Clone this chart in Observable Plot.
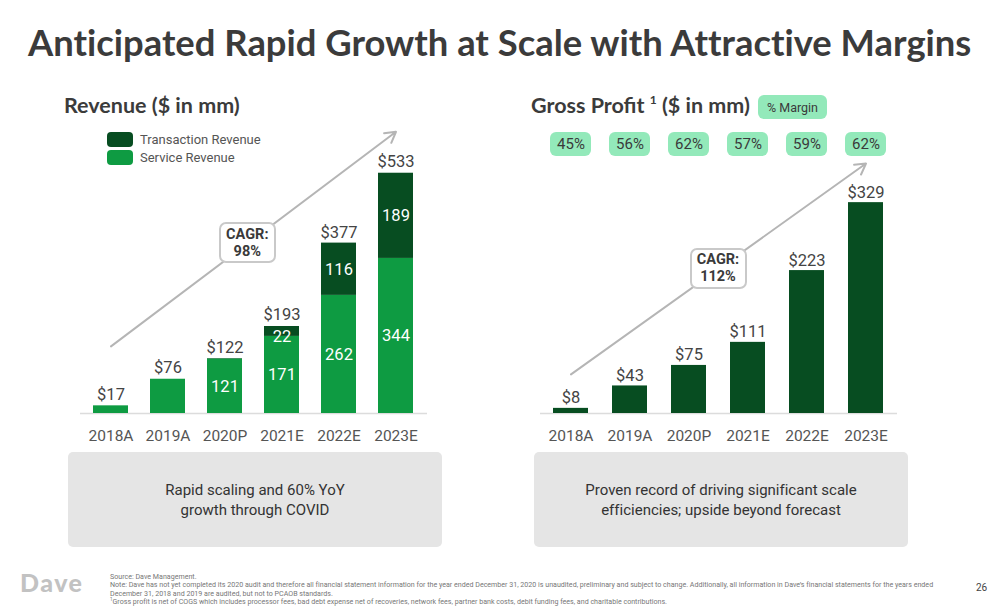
<!DOCTYPE html>
<html><head><meta charset="utf-8">
<script src="https://cdn.jsdelivr.net/npm/d3@7"></script>
<script src="https://cdn.jsdelivr.net/npm/@observablehq/plot@0.6"></script>
<style>
body{margin:0;background:#fff;}
#slide{position:relative;width:1008px;height:612px;overflow:hidden;font-family:Roboto,sans-serif;color:#3c3c3c;background:#fff;font-variant-ligatures:none;}
.abs{position:absolute;}
#title{left:28px;top:24px;font:700 36.4px/1 Lato,sans-serif;color:#3b3b3b;white-space:nowrap;font-variant-ligatures:none;}
.hdr{font:700 21.5px/1 Lato,sans-serif;color:#3b3b3b;white-space:nowrap;}
.hdr sup{font-size:12px;vertical-align:top;position:relative;top:-1px;}
.sw{width:26px;height:15px;border-radius:4px;}
.lg{font-size:13px;color:#555;line-height:15px;white-space:nowrap;}
.pill{background:#93e9ba;border-radius:6px;color:#3a3a3a;font-size:12.5px;display:flex;align-items:center;justify-content:center;}
.cagr{background:#fff;border:2px solid #c9c9c9;border-radius:7px;box-sizing:border-box;width:57px;height:41px;display:flex;flex-direction:column;align-items:center;justify-content:center;font-weight:700;font-size:14.5px;line-height:17px;color:#3a3a3a;}
.box{background:#e5e5e5;border-radius:5px;display:flex;align-items:center;justify-content:center;text-align:center;font-size:15px;line-height:20px;color:#333;}
.fn{left:110px;font-size:7.1px;line-height:1;color:#777;white-space:nowrap;}
.fn .s{font-size:4.5px;vertical-align:top;}
</style>
</head><body>
<div id="slide">
  <div id="title" class="abs">Anticipated Rapid Growth at Scale with Attractive Margins</div>
  <div class="abs hdr" style="left:64px;top:95px;">Revenue ($ in mm)</div>
  <div class="abs hdr" style="left:531px;top:95px;">Gross Profit <sup>1</sup> ($ in mm)</div>
  <div class="abs pill" style="left:758px;top:95px;width:69px;height:24px;">% Margin</div>

  <div class="abs sw" style="left:107px;top:132px;background:#074d21;"></div>
  <div class="abs lg" style="left:140px;top:132px;">Transaction Revenue</div>
  <div class="abs sw" style="left:107px;top:150px;background:#0e9b42;"></div>
  <div class="abs lg" style="left:140px;top:150px;">Service Revenue</div>

  <div id="revWrap" class="abs" style="left:60px;top:120px;"></div>
  <div id="gpWrap" class="abs" style="left:520px;top:122px;"></div>

  <div class="abs box" style="left:68px;top:452px;width:374px;height:95px;">Rapid scaling and 60% YoY<br>growth through COVID</div>
  <div class="abs box" style="left:534px;top:452px;width:374px;height:95px;">Proven record of driving significant scale<br>efficiencies; upside beyond forecast</div>

  <div class="abs" style="left:20px;top:570px;font:900 25px/1 Lato,sans-serif;color:#c2c2c2;letter-spacing:1.5px;">Dave</div>
  <div class="abs fn" style="top:572.5px;">Source: Dave Management.</div>
  <div class="abs fn" style="top:581px;">Note: Dave has not yet completed its 2020 audit and therefore all financial statement information for the year ended December 31, 2020 is unaudited, preliminary and subject to change. Additionally, all information in Dave’s financial statements for the years ended</div>
  <div class="abs fn" style="top:589.5px;">December 31, 2018 and 2019 are audited, but not to PCAOB standards.</div>
  <div class="abs fn" style="top:598px;"><span class="s">1</span>Gross profit is net of COGS which includes processor fees, bad debt expense net of recoveries, network fees, partner bank costs, debit funding fees, and charitable contributions.</div>
  <div class="abs" style="left:976px;top:582px;font-size:10px;color:#444;">26</div>
</div>
<script>
const years = ["2018A", "2019A", "2020P", "2021E", "2022E", "2023E"];
const serviceRevenue = [17, 76, 121, 171, 262, 344];
const transactionRevenue = [0, 0, 1, 22, 116, 189];
const totalRevenue = [17, 76, 122, 193, 377, 533];
const grossProfit = [8, 43, 75, 111, 223, 329];
const grossMargin = ["45%", "56%", "62%", "57%", "59%", "62%"];
const revenueCAGR = "98%";
const grossProfitCAGR = "112%";
const revenueTrend = {x1: "2018A", y1: 149, x2: "2023E", y2: 625};
const grossProfitTrend = {x1: "2018A", y1: 61, x2: "2023E", y2: 390};

const DARK = "#074d21", BRIGHT = "#0e9b42";

const revRows = years.flatMap((y, i) => [
  {year: y, type: "Service Revenue", value: serviceRevenue[i]},
  {year: y, type: "Transaction Revenue", value: transactionRevenue[i]}
]);
const svcLabels = years.map((y, i) => ({year: y, s: serviceRevenue[i]})).filter(d => d.s >= 100);
const trxLabels = years.map((y, i) => ({year: y, s: serviceRevenue[i], t: transactionRevenue[i]})).filter(d => d.t >= 10);

const axisOpts = {tickSize: 0, tickPadding: 16, fontSize: 15.5, fill: "#555", label: null, style: {letterSpacing: "0.6px"}};

const rev = Plot.plot({
  width: 390, height: 330,
  marginLeft: 20, marginRight: 23, marginTop: 9, marginBottom: 37,
  style: {fontFamily: "Roboto, sans-serif", background: "transparent", overflow: "visible"},
  x: {domain: years, paddingInner: 0.38, paddingOuter: 0.19, label: null},
  y: {domain: [0, 630], axis: null},
  color: {domain: ["Transaction Revenue", "Service Revenue"], range: [DARK, BRIGHT]},
  marks: [
    Plot.axisX(axisOpts),
    Plot.ruleY([0], {stroke: "#dcdcdc", strokeWidth: 1.5}),
    Plot.arrow([revenueTrend], {x1: "x1", y1: "y1", x2: "x2", y2: "y2", stroke: "#b5b5b5", strokeWidth: 2, headLength: 9}),
    Plot.barY(revRows, {x: "year", y: "value", fill: "type", order: ["Service Revenue", "Transaction Revenue"]}),
    Plot.text(years, {x: d => d, y: (d, i) => totalRevenue[i], text: (d, i) => "$" + totalRevenue[i], lineAnchor: "bottom", dy: -6, fontSize: 16.5, fill: "#444"}),
    Plot.text(svcLabels, {x: "year", y: d => d.s / 2, text: d => String(d.s), fill: "white", fontSize: 16.5}),
    Plot.text(trxLabels.filter(d => d.t >= 40), {x: "year", y: d => d.s + d.t / 2, text: d => String(d.t), fill: "white", fontSize: 16.5}),
    Plot.text(trxLabels.filter(d => d.t < 40), {x: "year", y: d => d.s + d.t / 2, text: d => String(d.t), fill: "white", fontSize: 16.5, dy: 5})
  ]
});
document.getElementById("revWrap").appendChild(rev);

const gp = Plot.plot({
  width: 400, height: 328,
  marginLeft: 20, marginRight: 23, marginTop: 9, marginBottom: 37,
  style: {fontFamily: "Roboto, sans-serif", background: "transparent", overflow: "visible"},
  x: {domain: years, paddingInner: 0.4, paddingOuter: 0.184, label: null},
  y: {domain: [0, 440], axis: null},
  marks: [
    Plot.axisX(axisOpts),
    Plot.ruleY([0], {stroke: "#dcdcdc", strokeWidth: 1.5}),
    Plot.arrow([grossProfitTrend], {x1: "x1", y1: "y1", x2: "x2", y2: "y2", stroke: "#b5b5b5", strokeWidth: 2, headLength: 9}),
    Plot.barY(years, {x: d => d, y: (d, i) => grossProfit[i], fill: DARK}),
    Plot.text(years, {x: d => d, y: (d, i) => grossProfit[i], text: (d, i) => "$" + grossProfit[i], lineAnchor: "bottom", dy: -5, fontSize: 16.5, fill: "#444"}),
    Plot.barY(years, {x: d => d, y1: 401, y2: 438.5, fill: "#93e9ba", rx: 6, insetLeft: -3, insetRight: -3}),
    Plot.text(years, {x: d => d, y: 419.75, text: (d, i) => grossMargin[i], fontSize: 15, fill: "#3a3a3a"})
  ]
});
document.getElementById("gpWrap").appendChild(gp);

function addCagr(chart, wrapId, trend, label, t) {
  const sx = chart.scale("x"), sy = chart.scale("y");
  const bw = sx.bandwidth / 2;
  const x1 = sx.apply(trend.x1) + bw, x2 = sx.apply(trend.x2) + bw;
  const y1 = sy.apply(trend.y1), y2 = sy.apply(trend.y2);
  const cx = x1 + (x2 - x1) * t, cy = y1 + (y2 - y1) * t;
  const div = document.createElement("div");
  div.className = "abs cagr";
  div.style.left = (cx - 28.5) + "px";
  div.style.top = (cy - 20.5) + "px";
  div.innerHTML = "<div>CAGR:</div><div>" + label + "</div>";
  document.getElementById(wrapId).appendChild(div);
}
addCagr(rev, "revWrap", revenueTrend, revenueCAGR, 0.48);
addCagr(gp, "gpWrap", grossProfitTrend, grossProfitCAGR, 0.5);
</script>
</body></html>
